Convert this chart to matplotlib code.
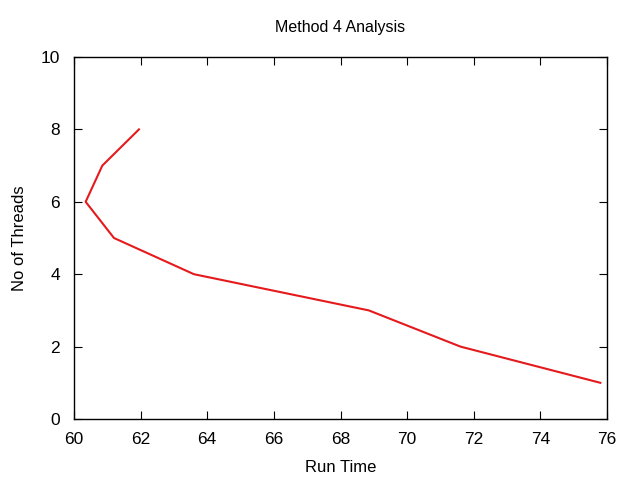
import matplotlib
matplotlib.use("Agg")
import matplotlib.pyplot as plt

# run time (x) vs number of threads (y)
run_time = [75.8, 71.6, 68.85, 63.6, 61.2, 60.35, 60.85, 61.95]
threads = [1, 2, 3, 4, 5, 6, 7, 8]

plt.rcParams['font.family'] = ['Liberation Sans', 'DejaVu Sans']

fig = plt.figure(figsize=(6.4, 4.8), dpi=100)
ax = fig.add_axes([74 / 640, 61 / 480, 533 / 640, 362 / 480])

ax.plot(run_time, threads, color='#e41a1c', linewidth=1.5)

ax.set_xlim(60, 76)
ax.set_ylim(0, 10)
ax.set_xticks(range(60, 77, 2))
ax.set_yticks(range(0, 11, 2))
ax.tick_params(direction='in', top=True, right=True, length=6, labelsize=12.5)
ax.tick_params(axis='x', pad=9)
ax.tick_params(axis='y', pad=10)
for s in ax.spines.values():
    s.set_linewidth(1)

ax.set_xlabel("Run Time", fontsize=12, labelpad=10)
ax.set_ylabel("No of Threads", fontsize=12, labelpad=10)
ax.set_title("Method 4 Analysis", fontsize=11.5, pad=18)

fig.savefig("out.png", dpi=100)
